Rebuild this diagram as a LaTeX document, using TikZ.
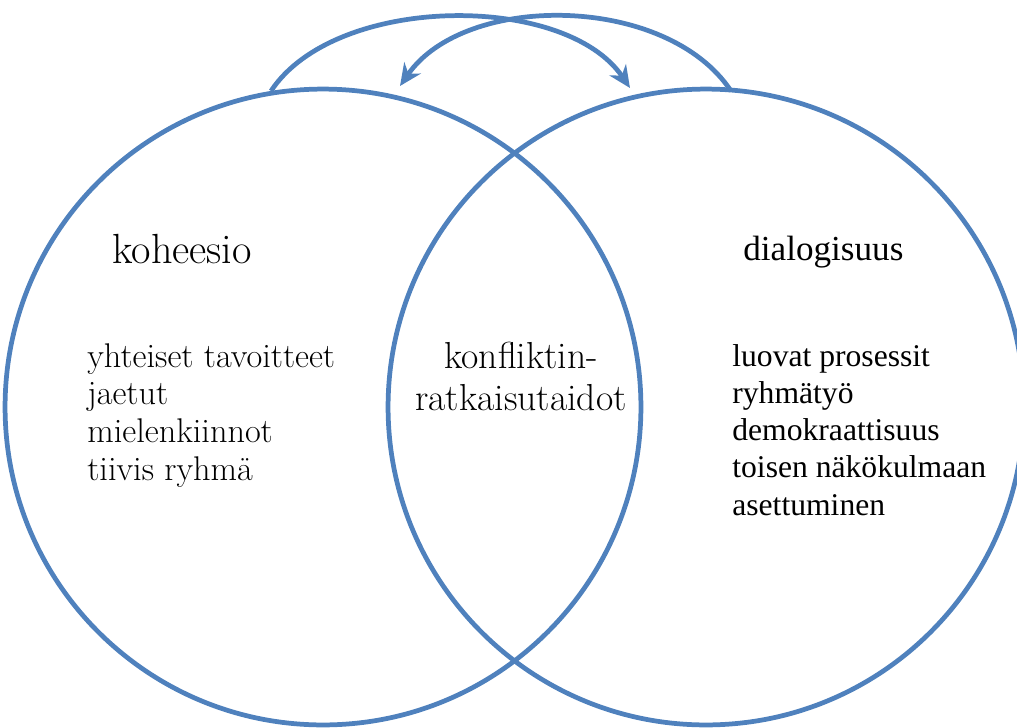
\documentclass[tikz,border=0pt]{standalone}
\usepackage{fontspec}
\usetikzlibrary{arrows.meta}
\newfontfamily\timesfont{Liberation Serif}
\definecolor{ringblue}{RGB}{79,129,189}
\begin{document}
\begin{tikzpicture}[x=0.02cm, y=-0.02cm, >={Stealth[length=0.44cm, width=0.4cm]},
        ring/.style={circle, draw=ringblue, line width=2.7pt, minimum size=12.72cm, inner sep=0pt},
        swing/.style={->, draw=ringblue, line width=2.7pt},
        every node/.append style={inner sep=0pt}]
        \useasboundingbox (0,0) rectangle (1017,727);
        \node[ring] (koh) at (323,407) {};
        \node[ring] (dia) at (706,407) {};
        \coordinate (a1) at (271,91);
        \coordinate (b1) at (630,88);
        \coordinate (a2) at (731,91);
        \coordinate (b2) at (400,86);
        \draw[swing] (a1) .. controls (335,-6) and (565,-8) .. (b1);
        \draw[swing] (a2) .. controls (667,-6) and (465,-8) .. (b2);
        % texts: anchored at the baseline of their last line
        \node[anchor=base west, font=\fontsize{24}{28}\selectfont] (t1) at (112,263) {koheesio};
        \node[anchor=base west, align=left, font=\fontsize{19.5}{21.4}\selectfont] (l1) at (87,480)
            {yhteiset tavoitteet\\ jaetut\\ mielenkiinnot\\ tiivis ryhmä};
        \node[anchor=base, align=center, font=\fontsize{21.4}{23.4}\selectfont] (c1) at (521,410)
            {konfliktin-\\ ratkaisutaidot};
        \node[anchor=base west, font=\timesfont\fontsize{20}{24}\selectfont] (t2) at (743,260) {dialogisuus};
        \node[anchor=base west, align=left, font=\timesfont\fontsize{18}{21.1}\selectfont] (l2) at (732,515)
            {luovat prosessit\\ ryhmätyö\\ demokraattisuus\\ toisen näkökulmaan\\ asettuminen};
\end{tikzpicture}
\end{document}
